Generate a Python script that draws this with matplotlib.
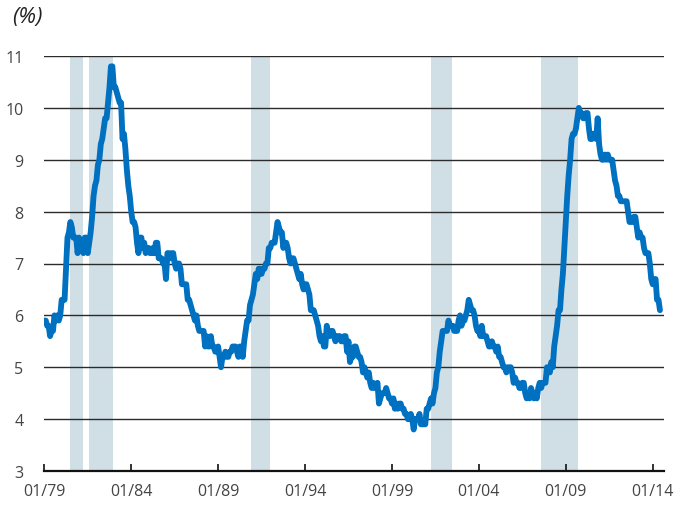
import numpy as np
import matplotlib
matplotlib.use("Agg")
from matplotlib import pyplot as plt

plt.rcParams['font.family'] = ['Open Sans', 'DejaVu Sans']

# monthly rate (%), starting 01/1979
rate = [
    5.9, 5.9, 5.8, 5.8, 5.6, 5.7, 5.7, 6.0, 5.9, 6.0, 5.9, 6.0,   # 1979
    6.3, 6.3, 6.3, 6.9, 7.5, 7.6, 7.8, 7.7, 7.5, 7.5, 7.5, 7.2,   # 1980
    7.5, 7.4, 7.4, 7.2, 7.5, 7.5, 7.2, 7.4, 7.6, 7.9, 8.3, 8.5,   # 1981
    8.6, 8.9, 9.0, 9.3, 9.4, 9.6, 9.8, 9.8, 10.1, 10.4, 10.8, 10.8,  # 1982
    10.4, 10.4, 10.3, 10.2, 10.1, 10.1, 9.4, 9.5, 9.2, 8.8, 8.5, 8.3,  # 1983
    8.0, 7.8, 7.8, 7.7, 7.4, 7.2, 7.5, 7.5, 7.3, 7.4, 7.2, 7.3,   # 1984
    7.3, 7.2, 7.2, 7.3, 7.2, 7.4, 7.4, 7.1, 7.1, 7.1, 7.0, 7.0,   # 1985
    6.7, 7.2, 7.2, 7.1, 7.2, 7.2, 7.0, 6.9, 7.0, 7.0, 6.9, 6.6,   # 1986
    6.6, 6.6, 6.6, 6.3, 6.3, 6.2, 6.1, 6.0, 5.9, 6.0, 5.8, 5.7,   # 1987
    5.7, 5.7, 5.7, 5.4, 5.6, 5.4, 5.4, 5.6, 5.4, 5.4, 5.3, 5.3,   # 1988
    5.4, 5.2, 5.0, 5.2, 5.2, 5.3, 5.2, 5.2, 5.3, 5.3, 5.4, 5.4,   # 1989
    5.4, 5.3, 5.2, 5.4, 5.4, 5.2, 5.5, 5.7, 5.9, 5.9, 6.2, 6.3,   # 1990
    6.4, 6.6, 6.8, 6.7, 6.9, 6.9, 6.8, 6.9, 6.9, 7.0, 7.0, 7.3,   # 1991
    7.3, 7.4, 7.4, 7.4, 7.6, 7.8, 7.7, 7.6, 7.6, 7.3, 7.4, 7.4,   # 1992
    7.3, 7.1, 7.0, 7.1, 7.1, 7.0, 6.9, 6.8, 6.7, 6.8, 6.6, 6.5,   # 1993
    6.6, 6.6, 6.5, 6.4, 6.1, 6.1, 6.1, 6.0, 5.9, 5.8, 5.6, 5.5,   # 1994
    5.6, 5.4, 5.4, 5.8, 5.6, 5.6, 5.7, 5.7, 5.6, 5.5, 5.6, 5.6,   # 1995
    5.6, 5.5, 5.5, 5.6, 5.6, 5.3, 5.5, 5.1, 5.2, 5.2, 5.4, 5.4,   # 1996
    5.3, 5.2, 5.2, 5.1, 4.9, 5.0, 4.9, 4.8, 4.9, 4.7, 4.6, 4.7,   # 1997
    4.6, 4.6, 4.7, 4.3, 4.4, 4.5, 4.5, 4.5, 4.6, 4.5, 4.4, 4.4,   # 1998
    4.3, 4.4, 4.2, 4.3, 4.2, 4.3, 4.3, 4.2, 4.2, 4.1, 4.1, 4.0,   # 1999
    4.0, 4.1, 4.0, 3.8, 4.0, 4.0, 4.0, 4.1, 3.9, 3.9, 3.9, 3.9,   # 2000
    4.2, 4.2, 4.3, 4.4, 4.3, 4.5, 4.6, 4.9, 5.0, 5.3, 5.5, 5.7,   # 2001
    5.7, 5.7, 5.7, 5.9, 5.8, 5.8, 5.8, 5.7, 5.7, 5.7, 5.9, 6.0,   # 2002
    5.8, 5.9, 5.9, 6.0, 6.1, 6.3, 6.2, 6.1, 6.1, 6.0, 5.8, 5.7,   # 2003
    5.7, 5.6, 5.8, 5.6, 5.6, 5.6, 5.5, 5.4, 5.4, 5.5, 5.4, 5.4,   # 2004
    5.3, 5.4, 5.2, 5.2, 5.1, 5.0, 5.0, 4.9, 5.0, 5.0, 5.0, 4.9,   # 2005
    4.7, 4.8, 4.7, 4.7, 4.6, 4.6, 4.7, 4.7, 4.5, 4.4, 4.5, 4.4,   # 2006
    4.6, 4.5, 4.4, 4.5, 4.4, 4.6, 4.7, 4.6, 4.7, 4.7, 4.7, 5.0,   # 2007
    5.0, 4.9, 5.1, 5.0, 5.4, 5.6, 5.8, 6.1, 6.1, 6.5, 6.8, 7.3,   # 2008
    7.8, 8.3, 8.7, 9.0, 9.4, 9.5, 9.5, 9.6, 9.8, 10.0, 9.9, 9.9,  # 2009
    9.8, 9.8, 9.9, 9.9, 9.6, 9.4, 9.4, 9.5, 9.5, 9.4, 9.8, 9.3,   # 2010
    9.1, 9.0, 9.0, 9.1, 9.0, 9.1, 9.0, 9.0, 9.0, 8.8, 8.6, 8.5,   # 2011
    8.3, 8.3, 8.2, 8.2, 8.2, 8.2, 8.2, 8.0, 7.8, 7.8, 7.8, 7.9,   # 2012
    7.9, 7.7, 7.5, 7.6, 7.5, 7.5, 7.3, 7.2, 7.2, 7.2, 7.0, 6.7,   # 2013
    6.6, 6.7, 6.7, 6.3, 6.3, 6.1,                                 # 2014
]

# shaded periods (start, end) as decimal years
bands = [(1980.45, 1981.2), (1981.55, 1982.97), (1990.88, 1991.97),
         (2001.22, 2002.43), (2007.55, 2009.73)]

tick_years = list(range(1979, 2015, 5))
tick_labels = ["01/%02d" % (y % 100) for y in tick_years]
yticks = list(range(3, 12))

x = 1979 + np.arange(len(rate)) / 12.0

fig = plt.figure(figsize=(6.9, 5.06), dpi=100)
ax = fig.add_axes([44.3 / 690, 34 / 506, (664 - 44.3) / 690, 415 / 506])

for a, b in bands:
    ax.axvspan(a, b, color='#d0dee6', lw=0, zorder=0)

for y in yticks[1:]:
    ax.axhline(y, color='#2b2b2b', lw=1.0, zorder=1)

ax.plot(x, rate, color='#0070c0', lw=4.2, solid_joinstyle='round',
        solid_capstyle='round', zorder=3)

ax.set_xlim(1979, 2014.65)
ax.set_ylim(3, 11)

for s in ['top', 'right', 'left']:
    ax.spines[s].set_visible(False)
ax.spines['bottom'].set_linewidth(1.6)
ax.spines['bottom'].set_color('#111111')

ax.set_xticks(tick_years)
ax.set_xticklabels(tick_labels)
ax.set_yticks(yticks)
ax.set_yticklabels([str(v) for v in yticks])
ax.tick_params(axis='x', direction='in', length=5, width=1.2, color='#111111',
               labelsize=11.5, labelcolor='#444444', pad=9)
ax.tick_params(axis='y', length=0, labelsize=11.5, labelcolor='#444444', pad=15)

fig.text(12 / 690, 1 - 18 / 506, "(%)", fontsize=16, style='italic',
         color='#222222', va='center', ha='left')

fig.savefig("out.png", dpi=100)
